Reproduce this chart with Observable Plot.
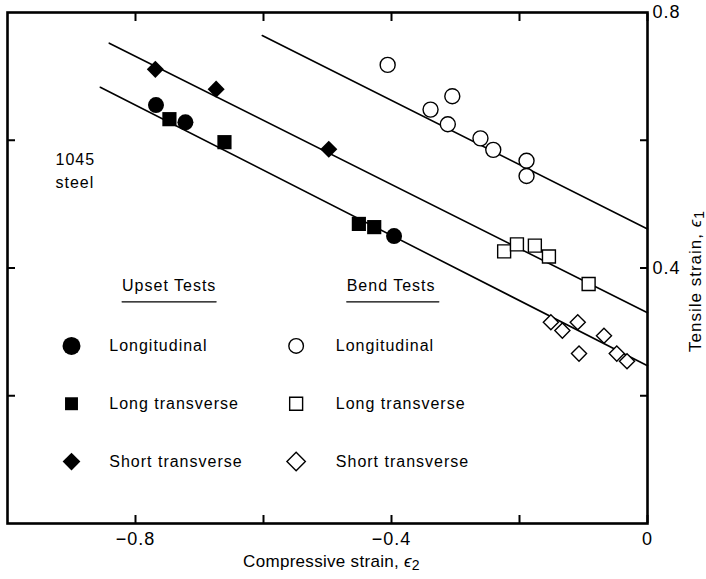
<!DOCTYPE html>
<html><head><meta charset="utf-8">
<script src="https://cdn.jsdelivr.net/npm/d3@7"></script>
<script src="https://cdn.jsdelivr.net/npm/@observablehq/plot@0.6"></script>
<style>body{margin:0;background:#fff}</style>
</head><body><div id="chart"></div>
<script>
// ---- data ----
const upsetLongX  = [-0.768, -0.722, -0.396];
const upsetLongY  = [0.655, 0.628, 0.450];
const upsetLTX    = [-0.747, -0.661, -0.451, -0.427];
const upsetLTY    = [0.633, 0.597, 0.469, 0.464];
const upsetSTX    = [-0.769, -0.674, -0.498];
const upsetSTY    = [0.711, 0.680, 0.586];
const bendLongX   = [-0.406, -0.339, -0.305, -0.312, -0.261, -0.241, -0.189, -0.189];
const bendLongY   = [0.718, 0.648, 0.669, 0.625, 0.603, 0.585, 0.568, 0.544];
const bendLTX     = [-0.224, -0.204, -0.176, -0.154, -0.092];
const bendLTY     = [0.426, 0.437, 0.435, 0.418, 0.375];
const bendSTX     = [-0.151, -0.133, -0.109, -0.068, -0.107, -0.048, -0.032];
const bendSTY     = [0.315, 0.302, 0.315, 0.294, 0.266, 0.266, 0.254];
// fitted lines (end points)
const lineTopX = [-0.602, 0], lineTopY = [0.764, 0.461];
const lineMidX = [-0.841, 0], lineMidY = [0.752, 0.330];
const lineLowX = [-0.855, 0], lineLowY = [0.683, 0.247];
// ticks
const xTicks = [-0.8, -0.6, -0.4, -0.2, 0];
const xTickLabels = [-0.8, -0.4, 0];
const yTicks = [0.2, 0.4, 0.6];
const yTickLabels = [0.4, 0.8];
// text
const xTitle = "Compressive strain, ";
const yTitle = "Tensile strain, ";
const legendGroups = ["Upset Tests", "Bend Tests"];
const legendLabels = ["Longitudinal", "Long transverse", "Short transverse"];
const materialLines = ["1045", "steel"];

// ---- layout (annotation placement, in axis units) ----
const legRowY = [0.278, 0.1875, 0.097];
const legSymX = [-0.900, -0.549];
const legTextX = [-0.841, -0.487];
const legHeadX = [[-0.821, -0.674], [-0.470, -0.326]];
const legHeadY = 0.372, legUnderY = 0.347;
const matX = -0.925, matY = [0.570, 0.534];

const pts = (xs, ys) => xs.map((x, i) => ({x, y: ys[i]}));
const fmt = d => d === 0 ? "0" : (d < 0 ? "\u2212" : "") + Math.abs(d).toFixed(1);

const symbols = ["circle", "square", "diamond2"];
const filledR = [8, 8, 7.7];
const openR = [7.5, 7.3, 6.8];
const legFilledR = [9, 7.3, 8];
const legOpenR = [7.3, 7.3, 8.3];

const upsetSets = [pts(upsetLongX, upsetLongY), pts(upsetLTX, upsetLTY), pts(upsetSTX, upsetSTY)];
const bendSets = [pts(bendLongX, bendLongY), pts(bendLTX, bendLTY), pts(bendSTX, bendSTY)];

const marks = [];
for (const [xs, ys] of [[lineTopX, lineTopY], [lineMidX, lineMidY], [lineLowX, lineLowY]]) {
  marks.push(Plot.line(pts(xs, ys), {x: "x", y: "y", stroke: "black", strokeWidth: 1.6}));
}
upsetSets.forEach((d, i) => marks.push(Plot.dot(d, {x: "x", y: "y", symbol: symbols[i], r: filledR[i], fill: "black"})));
bendSets.forEach((d, i) => marks.push(Plot.dot(d, {x: "x", y: "y", symbol: symbols[i], r: openR[i], fill: "white", stroke: "black", strokeWidth: 1.4})));

// legend
legendGroups.forEach((g, j) => {
  marks.push(Plot.text([g], {x: legHeadX[j][0], y: legHeadY, text: d => d, textAnchor: "start", fontSize: 16}));
  marks.push(Plot.line([{x: legHeadX[j][0], y: legUnderY}, {x: legHeadX[j][1], y: legUnderY}], {x: "x", y: "y", stroke: "black", strokeWidth: 1.2}));
});
legendLabels.forEach((lab, i) => {
  marks.push(Plot.dot([lab], {x: legSymX[0], y: legRowY[i], symbol: symbols[i], r: legFilledR[i], fill: "black"}));
  marks.push(Plot.dot([lab], {x: legSymX[1], y: legRowY[i], symbol: symbols[i], r: legOpenR[i], fill: "white", stroke: "black", strokeWidth: 1.4}));
  marks.push(Plot.text([lab], {x: legTextX[0], y: legRowY[i], text: d => d, textAnchor: "start", fontSize: 16}));
  marks.push(Plot.text([lab], {x: legTextX[1], y: legRowY[i], text: d => d, textAnchor: "start", fontSize: 16}));
});
materialLines.forEach((t, i) => marks.push(Plot.text([t], {x: matX, y: matY[i], text: d => d, textAnchor: "start", fontSize: 16})));

// axes: inward ticks
marks.push(Plot.axisX({anchor: "bottom", ticks: xTicks, tickSize: -8, tickFormat: () => "", label: null, strokeWidth: 2}));
marks.push(Plot.axisX({anchor: "top", ticks: xTicks, tickSize: -8, tickFormat: () => "", label: null, strokeWidth: 2}));
marks.push(Plot.axisY({anchor: "left", ticks: yTicks, tickSize: -8, tickFormat: () => "", label: null, strokeWidth: 2}));
marks.push(Plot.axisY({anchor: "right", ticks: yTicks, tickSize: -8, tickFormat: () => "", label: null, strokeWidth: 2}));
// tick labels
marks.push(Plot.axisX({anchor: "bottom", ticks: xTickLabels, tickSize: 0, tickPadding: 9, tickFormat: fmt, fontSize: 18, label: null}));
marks.push(Plot.axisY({anchor: "right", ticks: yTickLabels, tickSize: 0, tickPadding: 5, tickFormat: fmt, fontSize: 18, label: null}));
// axis titles
marks.push(Plot.text([xTitle], {frameAnchor: "bottom", dx: 4, dy: 38, textAnchor: "middle", lineAnchor: "middle", text: d => d, fontSize: 17}));
marks.push(Plot.text([yTitle], {frameAnchor: "right", dx: 48, dy: 13, rotate: -90, textAnchor: "middle", lineAnchor: "middle", text: d => d, fontSize: 17}));
marks.push(Plot.frame({stroke: "black", strokeWidth: 2.6}));

const chart = Plot.plot({
  width: 706, height: 579,
  marginLeft: 7, marginRight: 59, marginTop: 12, marginBottom: 56,
  x: {domain: [-1, 0]},
  y: {domain: [0, 0.8]},
  style: {fontFamily: "'Liberation Sans', Arial, sans-serif", fontSize: "16px", letterSpacing: "1px", background: "white", color: "black", overflow: "visible"},
  marks
});
// italic epsilon with subscript on the axis titles
d3.select(chart).selectAll("text").each(function () {
  const t = d3.select(this);
  const s = this.textContent;
  let sub = null;
  if (s === xTitle) { sub = "2"; t.style("letter-spacing", "0.3px"); }
  else if (s === yTitle) { sub = "1"; t.style("letter-spacing", "1px"); }
  if (sub) {
    t.append("tspan").attr("font-style", "italic").text("\u03F5");
    t.append("tspan").attr("dy", "0.25em").attr("font-size", "14").text(sub);
  }
});
document.getElementById("chart").appendChild(chart);
</script>
</body></html>
